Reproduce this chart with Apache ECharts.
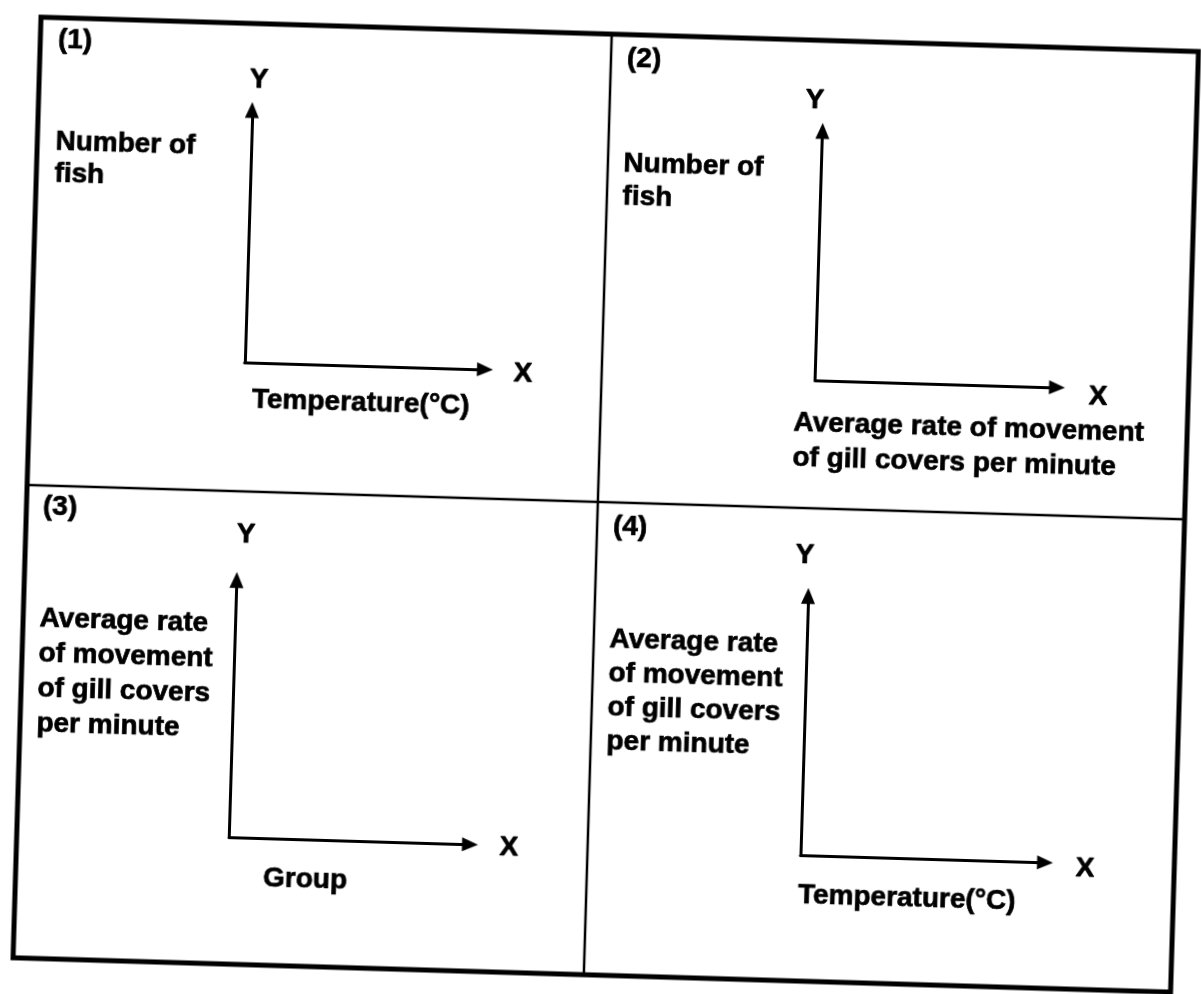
<!DOCTYPE html>
<html>
<head>
<meta charset="utf-8">
<script src="https://cdn.jsdelivr.net/npm/echarts@6/dist/echarts.min.js"></script>
<style>
html,body{margin:0;padding:0;background:#fff;overflow:hidden;}
#main{width:1201px;height:994px;transform:rotate(1.7deg);transform-origin:600.5px 497px;}
</style>
</head>
<body>
<div id="main"></div>
<script>
// ---- chart content (texts only: the panels are empty axes) ----
const panelTags = ['(1)', '(2)', '(3)', '(4)'];
const xAxisNames = ['X', 'X', 'X', 'X'];
const yAxisNames = ['Y', 'Y', 'Y', 'Y'];
const xTitles = ['Temperature(°C)', 'Average rate of movement\nof gill covers per minute', 'Group', 'Temperature(°C)'];
const yTitles = ['Number of\nfish', 'Number of\nfish', 'Average rate\nof movement\nof gill covers\nper minute', 'Average rate\nof movement\nof gill covers\nper minute'];
const axisMin = 0;
const axisMax = 1;

// ---- layout (reference-image pixel space, page is rotated by CSS) ----
const ROT = 1.7 * Math.PI / 180;
const CX = 600.5, CY = 497;
function U(p) {
  const dx = p[0] - CX, dy = p[1] - CY;
  const c = Math.cos(ROT), s = Math.sin(ROT);
  return [dx * c + dy * s + CX, -dx * s + dy * c + CY];
}
const layout = [
  {O: [245, 362], TY: [252, 102], TX: [493, 370], tag: [58, 40], yName: [259, 80], xName: [523, 374],
   yTitle: [55, 158, 32, 'left'], xTitle: [252, 400, 35, 'left']},
  {O: [815, 380], TY: [823, 123], TX: [1065, 388], tag: [627, 59], yName: [815, 100], xName: [1098, 397],
   yTitle: [623, 180, 33, 'left'], xTitle: [793, 440, 35, 'left']},
  {O: [228, 837], TY: [238, 572], TX: [478, 845], tag: [43, 507], yName: [246, 535], xName: [509, 848],
   yTitle: [38, 671, 35, 'left'], xTitle: [305, 880, 35, 'center']},
  {O: [801, 855], TY: [808, 588], TX: [1053, 863], tag: [613, 527], yName: [805, 555], xName: [1085, 869],
   yTitle: [608, 691, 34, 'left'], xTitle: [798, 895, 35, 'left']}
];
const FONT = 28;
const ARROW_W = 14, ARROW_H = 16;
const INK = '#000';

const grids = [], xAxes = [], yAxes = [], series = [], graphics = [];

function txt(text, pos, align, lh) {
  const p = U(pos);
  return {
    type: 'text', z: 100,
    style: {
      text: text, x: p[0], y: p[1],
      fill: INK, stroke: INK, lineWidth: 0.7,
      fontSize: FONT, fontWeight: 'bold',
      fontFamily: '"Liberation Sans", Arial, sans-serif',
      textAlign: align, textVerticalAlign: 'middle',
      lineHeight: lh || FONT
    }
  };
}

layout.forEach(function (L, i) {
  const o = U(L.O), ty = U(L.TY), tx = U(L.TX);
  const ax = (o[0] + ty[0]) / 2;
  const ay = (o[1] + tx[1]) / 2;
  const top = ty[1] + ARROW_H / 2;
  const right = tx[0] - ARROW_H / 2;
  grids.push({left: ax, top: top, width: right - ax, height: ay - top, containLabel: false});
  const axisLine = {
    show: true, onZero: false,
    symbol: ['none', 'triangle'], symbolSize: [ARROW_W, ARROW_H],
    lineStyle: {color: INK, width: 3}
  };
  xAxes.push({type: 'value', gridIndex: i, min: axisMin, max: axisMax, axisLine: axisLine,
    axisTick: {show: false}, axisLabel: {show: false}, splitLine: {show: false}});
  yAxes.push({type: 'value', gridIndex: i, min: axisMin, max: axisMax, axisLine: axisLine,
    axisTick: {show: false}, axisLabel: {show: false}, splitLine: {show: false}});
  series.push({type: 'line', xAxisIndex: i, yAxisIndex: i, data: []});

  graphics.push(txt(panelTags[i], L.tag, 'left'));
  graphics.push(txt(yAxisNames[i], L.yName, 'center'));
  graphics.push(txt(xAxisNames[i], L.xName, 'center'));
  graphics.push(txt(yTitles[i], [L.yTitle[0], L.yTitle[1]], L.yTitle[3], L.yTitle[2]));
  graphics.push(txt(xTitles[i], [L.xTitle[0], L.xTitle[1]], L.xTitle[3], L.xTitle[2]));
});

// frame and dividers (unrotated space)
const FR = {x1: 27, y1: 34, x2: 1185, y2: 975, vx: 598, hy: 502};
graphics.push({type: 'rect', z: 50, shape: {x: FR.x1, y: FR.y1, width: FR.x2 - FR.x1, height: FR.y2 - FR.y1},
  style: {fill: 'none', stroke: INK, lineWidth: 5}});
graphics.push({type: 'line', z: 50, shape: {x1: FR.vx, y1: FR.y1, x2: FR.vx, y2: FR.y2},
  style: {stroke: INK, lineWidth: 2.5}});
graphics.push({type: 'line', z: 50, shape: {x1: FR.x1, y1: FR.hy, x2: FR.x2, y2: FR.hy},
  style: {stroke: INK, lineWidth: 2.5}});

const chart = echarts.init(document.getElementById('main'), null, {renderer: 'canvas'});
chart.setOption({
  backgroundColor: '#fff',
  animation: false,
  grid: grids,
  xAxis: xAxes,
  yAxis: yAxes,
  series: series,
  graphic: graphics
});
</script>
</body>
</html>
